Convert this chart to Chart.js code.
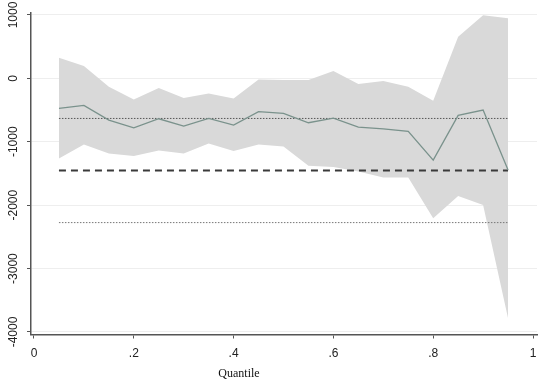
<!DOCTYPE html>
<html>
<head>
<meta charset="utf-8">
<script src="https://cdn.jsdelivr.net/npm/chart.js@4"></script>
<style>
  html, body { margin: 0; padding: 0; background: #fff; }
  #wrap { width: 546px; height: 385px; position: relative; }
</style>
</head>
<body>
<div id="wrap"><canvas id="qr"></canvas></div>
<script>
// ── data ───────────────────────────────────────────────────────────────────
const quantiles = [0.05, 0.10, 0.15, 0.20, 0.25, 0.30, 0.35, 0.40, 0.45, 0.50,
                   0.55, 0.60, 0.65, 0.70, 0.75, 0.80, 0.85, 0.90, 0.95];
const coef  = [-474, -426, -658, -779, -637, -753, -632, -737, -526, -553,
               -700, -626, -768, -795, -837, -1289, -584, -500, -1447];
const upper = [326, 195, -132, -332, -153, -311, -237, -316, -16, -26,
               -26, 117, -89, -42, -132, -353, 658, 995, 947];
const lower = [-1263, -1042, -1184, -1226, -1137, -1184, -1026, -1147, -1042, -1076,
               -1380, -1398, -1470, -1562, -1562, -2207, -1855, -1997, -3784];
const olsCoef = -1453;
const olsLow  = -2275;
const olsHigh = -632;
const xTicks = [0, 0.2, 0.4, 0.6, 0.8, 1];
const xTickLabels = ['0', '.2', '.4', '.6', '.8', '1'];
const yTicks = [-4000, -3000, -2000, -1000, 0, 1000];
const xTitle = 'Quantile';

// ── helpers ────────────────────────────────────────────────────────────────
const pts = ys => quantiles.map((q, i) => ({ x: q, y: ys[i] }));
const hline = v => [{ x: quantiles[0], y: v }, { x: quantiles[quantiles.length - 1], y: v }];

// rotated y labels + off-centre axis title, as Stata draws them
const stataText = {
  id: 'stataText',
  afterDraw(chart) {
    const { ctx, scales: { y } } = chart;
    ctx.save();
    ctx.fillStyle = '#222';
    ctx.font = '12px "Liberation Sans", Arial, sans-serif';
    ctx.textAlign = 'center';
    ctx.textBaseline = 'middle';
    yTicks.forEach(v => {
      ctx.save();
      ctx.translate(14, y.getPixelForValue(v));
      ctx.rotate(-Math.PI / 2);
      ctx.fillText(String(v), 0, 0);
      ctx.restore();
    });
    ctx.fillStyle = '#111';
    ctx.font = '12px "Liberation Serif", "Times New Roman", serif';
    ctx.fillText(xTitle, 239, 374);
    ctx.restore();
  },
};

const line = (data, color, width, dash) => ({
  data, borderColor: color, borderWidth: width, borderDash: dash || [],
  pointRadius: 0, showLine: true, fill: false, tension: 0,
});

new Chart(document.getElementById('qr'), {
  type: 'scatter',
  data: {
    datasets: [
      { ...line(pts(upper), 'transparent', 0), fill: '+1', backgroundColor: '#d9d9d9', order: 5 },
      { ...line(pts(lower), 'transparent', 0), order: 5 },
      { ...line(hline(olsHigh), '#555', 1, [1.5, 1.5]), order: 3 },
      { ...line(hline(olsLow), '#777', 1, [1.5, 1.5]), order: 3 },
      { ...line(hline(olsCoef), '#3a3a3a', 2, [7, 5]), order: 2 },
      { ...line(pts(coef), '#7a928c', 1.3), order: 1 },
    ],
  },
  options: {
    animation: false,
    responsive: true,
    maintainAspectRatio: false,
    layout: { padding: { top: 12.7, right: 9, left: 0, bottom: 0 } },
    scales: {
      x: {
        type: 'linear', min: -0.006, max: 1.008,
        afterBuildTicks: s => { s.ticks = xTicks.map(v => ({ value: v })); },
        afterFit: s => { s.height = 50.5; },
        border: { display: true, color: '#555', width: 1.5 },
        grid: { drawOnChartArea: false, drawTicks: true, tickLength: 4, tickColor: '#555' },
        ticks: {
          color: '#222', padding: 8, maxRotation: 0,
          font: { family: '"Liberation Sans", Arial, sans-serif', size: 12 },
          callback: v => xTickLabels[xTicks.indexOf(v)] ?? '',
        },
      },
      y: {
        type: 'linear', min: -4040, max: 1036,
        afterBuildTicks: s => { s.ticks = yTicks.map(v => ({ value: v })); },
        afterFit: s => { s.width = 31; },
        border: { display: true, color: '#555', width: 1.5 },
        grid: { color: '#eeeeee', lineWidth: 1, drawTicks: true, tickLength: 4, tickColor: '#555' },
        ticks: { display: false },
      },
    },
    plugins: {
      legend: { display: false },
      tooltip: { enabled: false },
    },
  },
  plugins: [stataText],
});
</script>
</body>
</html>
